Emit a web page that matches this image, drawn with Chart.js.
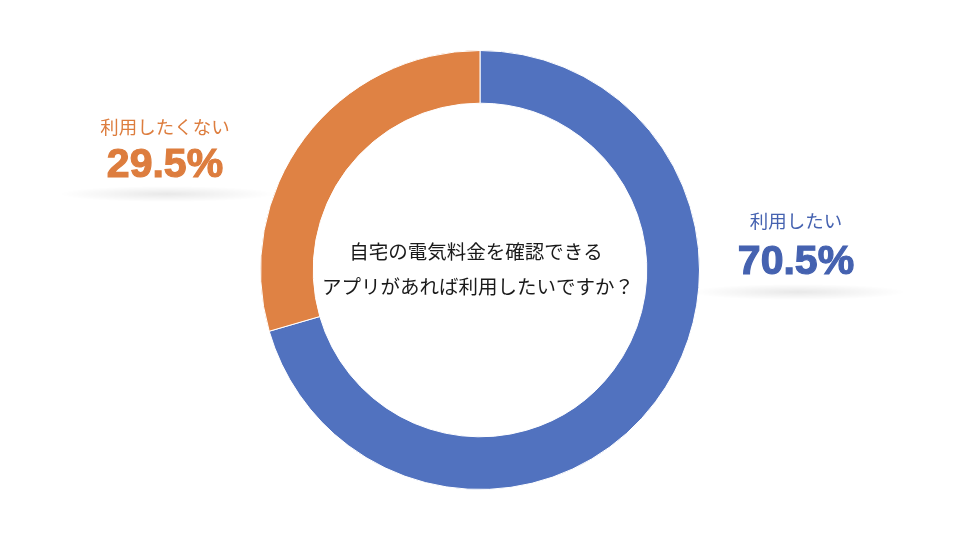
<!DOCTYPE html>
<html>
<head>
<meta charset="utf-8">
<script src="https://cdn.jsdelivr.net/npm/chart.js@4"></script>
<style>
    html, body { margin: 0; padding: 0; background: #fff; }
    #wrap { width: 960px; height: 540px; }
</style>
</head>
<body>
<div id="wrap"><canvas id="appChart"></canvas></div>
<script>
// data
var labels = ["利用したい", "利用したくない"];
var values = [70.5, 29.5];
var colors = ["#5172BF", "#DF8244"];
var textColors = ["#4562B0", "#DD7D3E"];
var question = ["自宅の電気料金を確認できる", "アプリがあれば利用したいですか？"];

var jpFont = '"Noto Sans CJK JP", "Noto Sans", sans-serif';

// soft shadow under a label
function drawShadow(ctx, x, y, w, h) {
    ctx.save();
    ctx.translate(x, y);
    ctx.scale(1, h / w);
    var g = ctx.createRadialGradient(0, 0, 0, 0, 0, w / 2);
    g.addColorStop(0, 'rgba(0,0,0,0.09)');
    g.addColorStop(0.55, 'rgba(0,0,0,0.04)');
    g.addColorStop(1, 'rgba(0,0,0,0)');
    ctx.fillStyle = g;
    ctx.beginPath();
    ctx.arc(0, 0, w / 2, 0, Math.PI * 2);
    ctx.fill();
    ctx.restore();
}

var labelPlugin = {
    id: 'sideLabels',
    afterDraw: function(chart) {
        var ctx = chart.ctx;
        var total = values.reduce(function(a, b) { return a + b; }, 0);
        var spots = [
            { x: 796, ny: 221, vy: 263, sy: 292 },
            { x: 165, ny: 127, vy: 166, sy: 194 }
        ];
        ctx.save();
        ctx.textAlign = 'center';
        ctx.textBaseline = 'middle';
        for (var i = 0; i < labels.length; i++) {
            var s = spots[i];
            drawShadow(ctx, s.x + 2, s.sy, 215, 16);
            ctx.fillStyle = textColors[i];
            ctx.font = '18.5px ' + jpFont;
            ctx.fillText(labels[i], s.x, s.ny);
            ctx.font = 'bold 41px "Liberation Sans", Arial, sans-serif';
            var pct = (values[i] / total * 100).toFixed(1) + '%';
            ctx.fillText(pct, s.x, s.vy);
            // a bit heavier, like the original
            ctx.strokeStyle = textColors[i];
            ctx.lineWidth = 1.2;
            ctx.strokeText(pct, s.x, s.vy);
        }
        // centre question
        var meta = chart.getDatasetMeta(0).data[0];
        ctx.fillStyle = '#1a1a1a';
        ctx.font = '19.5px ' + jpFont;
        ctx.fillText(question[0], meta.x - 4, meta.y - 18);
        ctx.fillText(question[1], meta.x - 2, meta.y + 17);
        ctx.restore();
    }
};

var ctx = document.getElementById('appChart').getContext('2d');
var chart = new Chart(ctx, {
    type: 'doughnut',
    data: {
        labels: labels,
        datasets: [{
            data: values,
            backgroundColor: colors,
            borderColor: '#ffffff',
            borderWidth: 1
        }]
    },
    options: {
        responsive: true,
        maintainAspectRatio: false,
        animation: false,
        cutout: '76%',
        layout: { padding: { top: 50, bottom: 50 } },
        plugins: {
            legend: { display: false },
            tooltip: { enabled: false }
        }
    },
    plugins: [labelPlugin]
});
</script>
</body>
</html>
